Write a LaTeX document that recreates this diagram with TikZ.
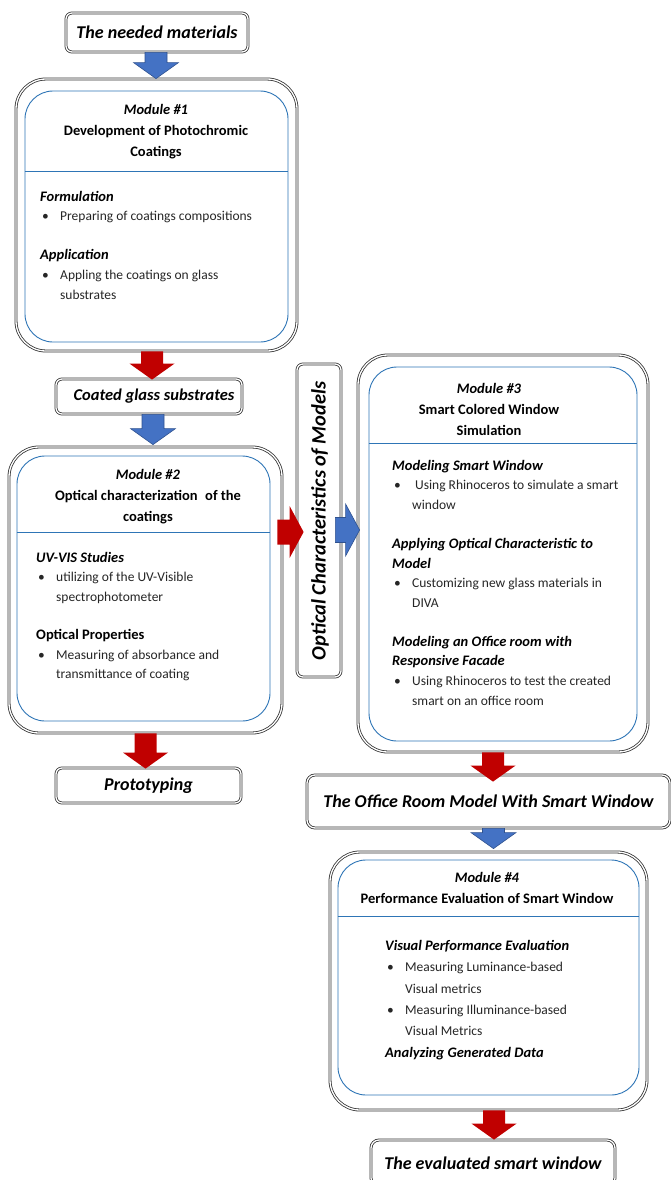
\documentclass[tikz,border=0pt]{standalone}
\usepackage{fontspec}
\setmainfont{Carlito}
\usetikzlibrary{calc}

\definecolor{arrowblue}{HTML}{4472C4}
\definecolor{arrowbluedark}{HTML}{2F528F}
\definecolor{arrowred}{HTML}{C00000}
\definecolor{panelblue}{HTML}{2E75B6}
\definecolor{bodygray}{HTML}{262626}

% vertical block arrow: #1 style, #2 start of the shaft, #3 tip (only its y is used)
\newcommand{\downblock}[3]{%
  \path[#1] let \p1=(#2), \p2=(#3) in
    (\x1-11pt,\y1) -- (\x1+11pt,\y1) -- (\x1+11pt,\y2+16pt) -- (\x1+22.5pt,\y2+16pt)
    -- (\x1,\y2) -- (\x1-22.5pt,\y2+16pt) -- (\x1-11pt,\y2+16pt) -- cycle;}
% horizontal block arrow: #1 style, #2 start of the shaft, #3 tip (only its x is used)
\newcommand{\rightblock}[3]{%
  \path[#1] let \p1=(#2), \p2=(#3) in
    (\x1,\y1+12.5pt) -- (\x2-14pt,\y1+12.5pt) -- (\x2-14pt,\y1+26pt) -- (\x2,\y1)
    -- (\x2-14pt,\y1-26pt) -- (\x2-14pt,\y1-12.5pt) -- (\x1,\y1-12.5pt) -- cycle;}

% body lines of the module panels
\newcommand{\itemhead}[1]{{\fontsize{14.5pt}{19.6pt}\selectfont\bfseries\itshape\color{black}#1}}
\newcommand{\itembul}[1]{\makebox[20pt][l]{\hspace{2pt}\textbullet}#1}
\newcommand{\itemcont}[1]{\hspace*{20pt}#1}

\tikzset{
  outerbox/.style={draw=black!80, double=white, double distance=1.3pt, line width=0.8pt,
    fill=white, rounded corners=30pt, inner sep=0pt},
  panel/.style={draw=panelblue, line width=0.9pt, rounded corners=28pt, inner sep=0pt},
  labelbox/.style={draw=black!80, double=white, double distance=1.3pt, line width=0.8pt,
    fill=white, rounded corners=6pt, inner sep=0pt,
    font=\fontsize{18pt}{20pt}\selectfont\bfseries\itshape},
  divider/.style={draw=panelblue, line width=0.9pt},
  titletext/.style={align=center, inner sep=0pt, font=\fontsize{14.5pt}{21pt}\selectfont\bfseries},
  bodytext/.style={align=left, inner sep=0pt, text=bodygray,
    font=\fontsize{13.5pt}{19.6pt}\selectfont},
  bluearrow/.style={fill=arrowblue, draw=arrowbluedark, line width=0.6pt},
  redarrow/.style={fill=arrowred},
}

\begin{document}
\begin{tikzpicture}[x=1pt, y=-1pt]
\useasboundingbox (0,0) rectangle (671,1180);

% ---------- left column ----------
\node[labelbox, minimum width=182pt, minimum height=39pt] (need) at (157,32.5) {The needed materials};

\node[outerbox, minimum width=281pt, minimum height=272pt] (m1) at (156.5,215) {};
\node[panel, minimum width=263pt, minimum height=251pt] (p1) at (156.5,216.5) {};
\draw[divider] (p1.west |- 0,171) -- (p1.east |- 0,171);
\node[titletext] (t1) at (156,132) {\itshape Module \#1\\Development of Photochromic\\Coatings};
\node[bodytext, anchor=north west] (b1) at (40,191) {%
  \itemhead{Formulation}\\
  \itembul{Preparing of coatings compositions}\\[19.4pt]
  \itemhead{Application}\\
  \itembul{Appling the coatings on glass}\\
  \itemcont{substrates}};

\node[labelbox, minimum width=186pt, minimum height=35pt,
  font=\fontsize{16.5pt}{20pt}\selectfont\bfseries\itshape] (coated) at (149,396.5) {\hspace{10pt}Coated glass substrates};

\node[outerbox, minimum width=273pt, minimum height=286pt] (m2) at (145.5,590) {};
\node[panel, minimum width=253pt, minimum height=265pt] (p2) at (143.5,588.5) {};
\draw[divider] (p2.west |- 0,532) -- (p2.east |- 0,532);
\node[titletext] (t2) at (148,497) {\itshape Module \#2\\Optical characterization\hspace{0.3em} of the\\coatings};
\node[bodytext, anchor=north west] (b2) at (36,552) {%
  \itemhead{UV-VIS Studies}\\
  \itembul{utilizing of the UV-Visible}\\
  \itemcont{spectrophotometer}\\[18.4pt]
  {\fontsize{14.5pt}{19.6pt}\selectfont\bfseries\color{black}Optical Properties}\\
  \itembul{Measuring of absorbance and}\\
  \itemcont{transmittance of coating}};

\node[labelbox, minimum width=185pt, minimum height=35pt] (proto) at (148.5,785.5) {Prototyping};

% ---------- middle strip ----------
\node[labelbox, minimum width=44pt, minimum height=313pt] (vbox) at (319,520.5) {};
\node[rotate=90, inner sep=0pt, font=\fontsize{20.5pt}{22pt}\selectfont\bfseries\itshape] (vtext) at (320,521)
  {Optical Characteristics of Models};

% ---------- right column ----------
\node[outerbox, minimum width=290pt, minimum height=397pt] (m3) at (503,553.5) {};
\node[panel, minimum width=268pt, minimum height=374pt] (p3) at (503,554) {};
\draw[divider] (p3.west |- 0,443) -- (p3.east |- 0,443);
\node[titletext] (t3) at (489,409) {\itshape Module \#3\\Smart Colored Window\\Simulation};
\node[bodytext, anchor=north west] (b3) at (392,460) {%
  \itemhead{Modeling Smart Window}\\
  \itembul{\hspace{3pt}Using Rhinoceros to simulate a smart}\\
  \itemcont{window}\\[19.4pt]
  \itemhead{Applying Optical Characteristic to}\\
  \itemhead{Model}\\
  \itembul{Customizing new glass materials in}\\
  \itemcont{DIVA}\\[19.4pt]
  \itemhead{Modeling an Office room with}\\
  \itemhead{Responsive Facade}\\
  \itembul{Using Rhinoceros to test the created}\\
  \itemcont{smart on an office room}};

\node[labelbox, minimum width=363pt, minimum height=53pt, rounded corners=8pt] (office) at (488.5,801.5)
  {The Office Room Model With Smart Window};

\node[outerbox, minimum width=317pt, minimum height=258pt] (m4) at (488.5,981) {};
\node[panel, minimum width=301pt, minimum height=235pt] (p4) at (488.5,977.5) {};
\draw[divider] (p4.west |- 0,916) -- (p4.east |- 0,916);
\node[titletext] (t4) at (487,888) {\itshape Module \#4\\Performance Evaluation of Smart Window};
\node[bodytext, anchor=north west, font=\fontsize{13.5pt}{21.4pt}\selectfont] (b4) at (385,940) {%
  \itemhead{Visual Performance Evaluation}\\
  \itembul{Measuring Luminance-based}\\
  \itemcont{Visual metrics}\\
  \itembul{Measuring Illuminance-based}\\
  \itemcont{Visual Metrics}\\
  \itemhead{Analyzing Generated Data}};

\node[labelbox, minimum width=244pt, minimum height=46pt, rounded corners=8pt] (evald) at (493,1163)
  {The evaluated smart window};

% ---------- block arrows ----------
\downblock{bluearrow}{[xshift=-1pt]need.south}{m1.north}
\downblock{redarrow}{[xshift=-4.5pt]m1.south}{[yshift=-1pt]coated.north}
\downblock{bluearrow}{[xshift=4pt]coated.south}{[yshift=2pt]m2.north}
\downblock{redarrow}{m2.south}{[yshift=-1pt]proto.north}
\rightblock{redarrow}{[xshift=-5pt,yshift=58pt]m2.east}{[xshift=7pt]vbox.west}
\rightblock{bluearrow}{[xshift=-6pt,yshift=-9.5pt]vbox.east}{[xshift=2pt]m3.west}
\downblock{redarrow}{[xshift=-10pt]m3.south}{[yshift=-7pt]office.north}
\downblock{bluearrow}{[xshift=5pt]office.south}{[yshift=3pt]m4.north}
\downblock{redarrow}{[xshift=5.5pt]m4.south}{evald.north}
\end{tikzpicture}
\end{document}
